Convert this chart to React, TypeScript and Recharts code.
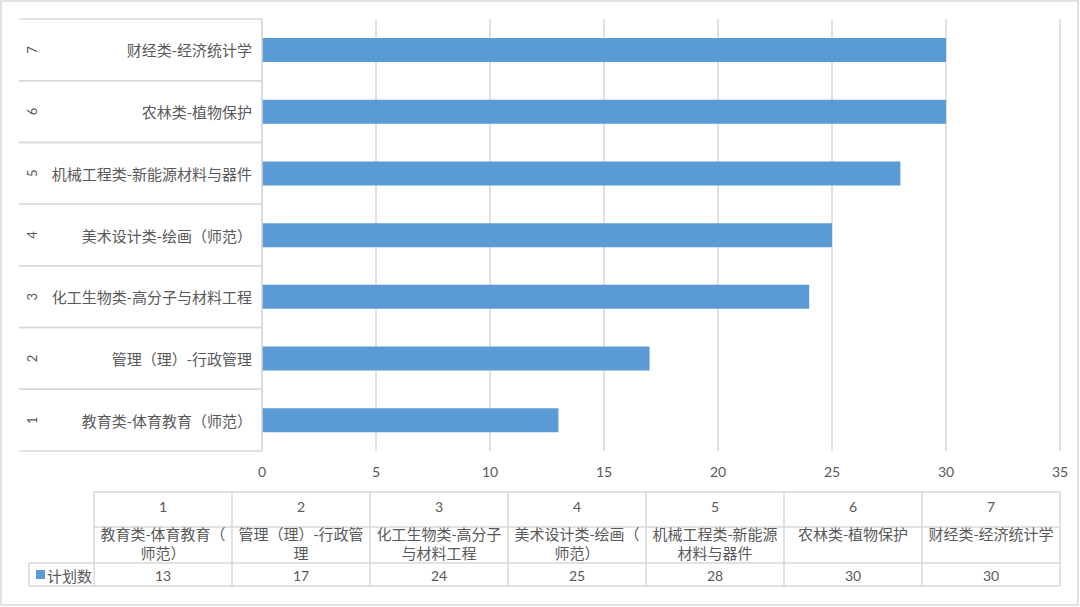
import { BarChart, Bar, XAxis, YAxis, CartesianGrid } from 'recharts'

const categoryIds = [1, 2, 3, 4, 5, 6, 7]
const categories = [
  '教育类-体育教育（师范）',
  '管理（理）-行政管理',
  '化工生物类-高分子与材料工程',
  '美术设计类-绘画（师范）',
  '机械工程类-新能源材料与器件',
  '农林类-植物保护',
  '财经类-经济统计学',
]
const planCounts = [13, 17, 24, 25, 28, 30, 30]
const xTicks = [0, 5, 10, 15, 20, 25, 30, 35]
const seriesName = '计划数'

const data = categories.map((name, i) => ({ id: categoryIds[i], name, value: planCounts[i] }))

const W = 1080
const H = 607
const PLOT_LEFT = 262
const PLOT_TOP = 19
const PLOT_BOTTOM = 451
const AXIS_LEFT = 19
const BAND = (PLOT_BOTTOM - PLOT_TOP) / categories.length

const BLUE = '#5b9bd5'
const LINE = '#d9d9d9'
const TEXT = '#595959'
const CJK = "'Noto Sans CJK SC', sans-serif"
const NUM = "Lato, 'Noto Sans CJK SC', sans-serif"

// rough text wrap for the table cells
function wrap(text: string, max: number) {
  const lines: string[] = []
  let cur = ''
  let w = 0
  for (const ch of text) {
    const cw = ch.charCodeAt(0) > 255 ? 15 : ch === '-' ? 5 : 8
    if (w + cw > max && cur) {
      lines.push(cur)
      cur = ''
      w = 0
    }
    cur += ch
    w += cw
  }
  if (cur) lines.push(cur)
  return lines
}

interface TickProps { x?: number; y?: number; payload?: { value: string; index: number } }
const CategoryTick = ({ y = 0, payload }: TickProps) => {
  const idx = categories.indexOf(payload?.value ?? '')
  return (
    <g>
      <line x1={AXIS_LEFT} x2={PLOT_LEFT} y1={y - BAND / 2} y2={y - BAND / 2} stroke={LINE} strokeWidth={1.5} />
      <line x1={AXIS_LEFT} x2={PLOT_LEFT} y1={y + BAND / 2} y2={y + BAND / 2} stroke={LINE} strokeWidth={1.5} />
      <text
        x={32}
        y={y}
        transform={`rotate(-90 32 ${y})`}
        textAnchor="middle"
        dominantBaseline="central"
        fontSize={13}
        fontFamily={NUM}
        fill={TEXT}
      >
        {categoryIds[idx]}
      </text>
      <text x={252} y={y} textAnchor="end" dominantBaseline="central" fontSize={15} fontFamily={CJK} fill={TEXT}>
        {payload?.value}
      </text>
    </g>
  )
}

const TABLE_LEFT = 94
const TABLE_RIGHT = 1060
const LEGEND_LEFT = 29
const ROW_Y = [492, 527, 563, 586]
const COL_W = (TABLE_RIGHT - TABLE_LEFT) / categories.length

const DataTable = () => (
  <svg width={W} height={H} style={{ position: 'absolute', left: 0, top: 0, pointerEvents: 'none' }}>
    <rect x={1} y={1} width={W - 3} height={H - 3} fill="none" stroke={LINE} strokeWidth={1.5} />
    <line x1={TABLE_LEFT} x2={TABLE_RIGHT} y1={ROW_Y[0]} y2={ROW_Y[0]} stroke={LINE} strokeWidth={1.5} />
    <line x1={TABLE_LEFT} x2={TABLE_RIGHT} y1={ROW_Y[1]} y2={ROW_Y[1]} stroke={LINE} strokeWidth={1.5} />
    <line x1={LEGEND_LEFT} x2={TABLE_RIGHT} y1={ROW_Y[2]} y2={ROW_Y[2]} stroke={LINE} strokeWidth={1.5} />
    <line x1={LEGEND_LEFT} x2={TABLE_RIGHT} y1={ROW_Y[3]} y2={ROW_Y[3]} stroke={LINE} strokeWidth={1.5} />
    <line x1={LEGEND_LEFT} x2={LEGEND_LEFT} y1={ROW_Y[2]} y2={ROW_Y[3]} stroke={LINE} strokeWidth={1.5} />
    {categories.map((_, i) => (
      <line key={'v' + i} x1={TABLE_LEFT + i * COL_W} x2={TABLE_LEFT + i * COL_W} y1={ROW_Y[0]} y2={ROW_Y[3]} stroke={LINE} strokeWidth={1.5} />
    ))}
    <line x1={TABLE_RIGHT} x2={TABLE_RIGHT} y1={ROW_Y[0]} y2={ROW_Y[3]} stroke={LINE} strokeWidth={1.5} />
    <rect x={36} y={570} width={9} height={9} fill={BLUE} />
    <text x={47} y={575} dominantBaseline="central" fontSize={15} fontFamily={CJK} fill={TEXT}>{seriesName}</text>
    {categories.map((name, i) => {
      const cx = TABLE_LEFT + (i + 0.5) * COL_W
      return (
        <g key={name}>
          <text x={cx} y={506} textAnchor="middle" dominantBaseline="central" fontSize={14} fontFamily={NUM} fill={TEXT}>
            {categoryIds[i]}
          </text>
          {wrap(name, 130).map((ln, j) => (
            <text key={j} x={cx} y={533 + j * 19} textAnchor="middle" dominantBaseline="central" fontSize={15} fontFamily={CJK} fill={TEXT}>
              {ln}
            </text>
          ))}
          <text x={cx} y={575} textAnchor="middle" dominantBaseline="central" fontSize={14} fontFamily={NUM} fill={TEXT}>
            {planCounts[i]}
          </text>
        </g>
      )
    })}
  </svg>
)

export default function App() {
  return (
    <div style={{ position: 'absolute', left: 0, top: 0, width: W, height: H, background: '#fff' }}>
      <BarChart
        width={W}
        height={H}
        data={data}
        layout="vertical"
        margin={{ top: PLOT_TOP, right: W - 1060, bottom: H - PLOT_BOTTOM - 30, left: AXIS_LEFT }}
        barCategoryGap={0}
      >
        <CartesianGrid horizontal={false} stroke={LINE} strokeWidth={1.5} />
        <XAxis
          type="number"
          domain={[0, 35]}
          ticks={xTicks}
          axisLine={false}
          tickLine={false}
          height={30}
          tick={{ fill: TEXT, fontSize: 14, fontFamily: NUM }}
          tickMargin={10}
        />
        <YAxis
          type="category"
          dataKey="name"
          reversed
          width={PLOT_LEFT - AXIS_LEFT}
          axisLine={{ stroke: LINE, strokeWidth: 1.5 }}
          tickLine={false}
          tick={<CategoryTick />}
          interval={0}
        />
        <Bar dataKey="value" name={seriesName} fill={BLUE} barSize={24} isAnimationActive={false} />
      </BarChart>
      <DataTable />
    </div>
  )
}
